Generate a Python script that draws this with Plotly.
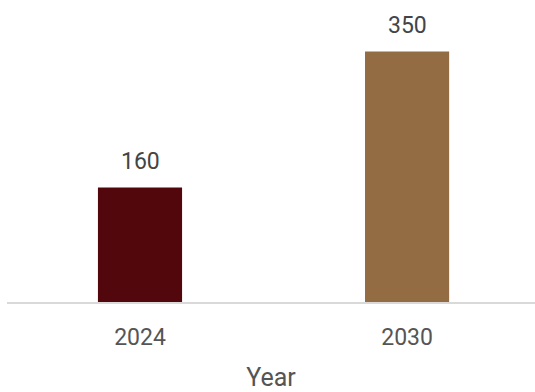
import plotly.graph_objects as go

years = ["2024", "2030"]
values = [160, 350]
colors = ["#52070c", "#936c44"]

fig = go.Figure()
fig.add_trace(go.Bar(
    x=years, y=values,
    marker=dict(color=colors, line=dict(width=0)),
    width=0.315,
    hoverinfo="skip",
))

for i, v in enumerate(values):
    fig.add_annotation(
        x=i, y=v, text=str(v), showarrow=False,
        yanchor="middle", yshift=26,
        font=dict(family="Roboto", size=23, color="#444444"),
    )

fig.update_layout(
    width=535, height=392,
    margin=dict(l=7, r=0, t=10, b=90),
    paper_bgcolor="white", plot_bgcolor="white",
    showlegend=False,
    font=dict(family="Roboto", color="#555555"),
    xaxis=dict(
        type="category",
        range=[-0.498, 1.479],
        showline=True, linecolor="#d9d9d9", linewidth=2,
        ticks="outside", ticklen=13, tickcolor="rgba(0,0,0,0)",
        showgrid=False,
        tickfont=dict(family="Roboto", size=23, color="#555555"),
        title=dict(text="Year", font=dict(family="Roboto", size=25, color="#555555"), standoff=21),
        automargin=False,
    ),
    yaxis=dict(
        range=[0, 408], visible=False, showgrid=False, zeroline=False,
    ),
)

fig.write_html(
    "out.html",
    config={"displayModeBar": False, "staticPlot": True},
    post_script="document.body.style.margin='0';document.body.style.overflow='hidden';",
)
